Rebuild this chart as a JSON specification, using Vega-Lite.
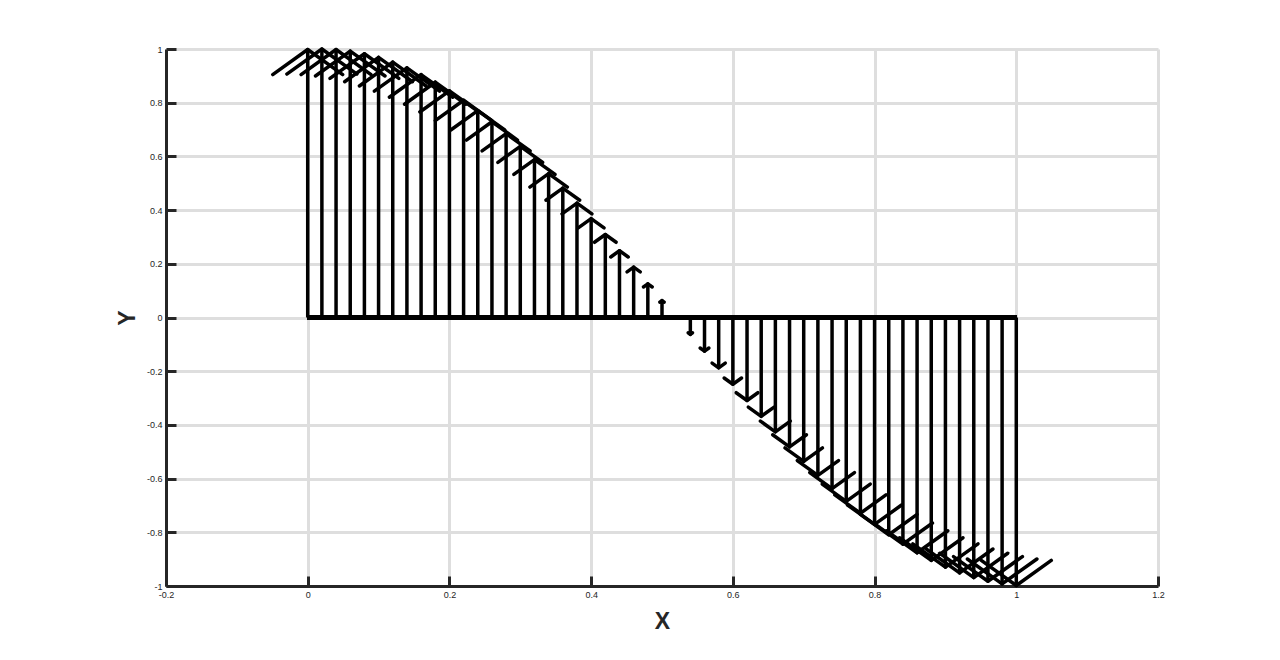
{
  "$schema": "https://vega.github.io/schema/vega-lite/v6.json",
  "width": 992,
  "height": 537,
  "autosize": {"type": "none"},
  "padding": {"left": 166, "top": 49, "right": 122, "bottom": 74},
  "background": "white",
  "config": {
    "view": {"stroke": null},
    "axis": {
      "domainColor": "#262626",
      "domainWidth": 3,
      "tickColor": "#262626",
      "tickWidth": 3,
      "tickSize": -10,
      "labelPadding": 14,
      "gridColor": "#dedede",
      "gridWidth": 3,
      "labelFont": "Liberation Sans",
      "labelFontSize": 9,
      "labelColor": "#262626",
      "titleFont": "Liberation Sans",
      "titleFontSize": 23,
      "titleFontWeight": "bold",
      "titleColor": "#262626",
      "labelFlush": false,
      "labelOverlap": false,
      "labelBound": false
    }
  },
  "data": {"values": [
    {"x":0,"v":0.998,"hl":-0.0494,"hr":0.0494,"hy":0.9047},
    {"x":0.02,"v":1,"hl":-0.0295,"hr":0.0695,"hy":0.9065},
    {"x":0.04,"v":0.998,"hl":-0.0094,"hr":0.0894,"hy":0.9047},
    {"x":0.06,"v":0.9921,"hl":0.0109,"hr":0.1091,"hy":0.8994},
    {"x":0.08,"v":0.9823,"hl":0.0314,"hr":0.1286,"hy":0.8905},
    {"x":0.1,"v":0.9686,"hl":0.0521,"hr":0.1479,"hy":0.878},
    {"x":0.12,"v":0.9511,"hl":0.0729,"hr":0.1671,"hy":0.8621},
    {"x":0.14,"v":0.9298,"hl":0.094,"hr":0.186,"hy":0.8429},
    {"x":0.16,"v":0.9048,"hl":0.1152,"hr":0.2048,"hy":0.8202},
    {"x":0.18,"v":0.8763,"hl":0.1366,"hr":0.2234,"hy":0.7944},
    {"x":0.2,"v":0.8443,"hl":0.1582,"hr":0.2418,"hy":0.7654},
    {"x":0.22,"v":0.809,"hl":0.18,"hr":0.26,"hy":0.7334},
    {"x":0.24,"v":0.7705,"hl":0.2019,"hr":0.2781,"hy":0.6985},
    {"x":0.26,"v":0.729,"hl":0.2239,"hr":0.2961,"hy":0.6608},
    {"x":0.28,"v":0.6846,"hl":0.2461,"hr":0.3139,"hy":0.6205},
    {"x":0.3,"v":0.6374,"hl":0.2684,"hr":0.3316,"hy":0.5778},
    {"x":0.32,"v":0.5878,"hl":0.2909,"hr":0.3491,"hy":0.5328},
    {"x":0.34,"v":0.5358,"hl":0.3135,"hr":0.3665,"hy":0.4857},
    {"x":0.36,"v":0.4818,"hl":0.3362,"hr":0.3839,"hy":0.4367},
    {"x":0.38,"v":0.4258,"hl":0.3589,"hr":0.4011,"hy":0.386},
    {"x":0.4,"v":0.3681,"hl":0.3818,"hr":0.4182,"hy":0.3337},
    {"x":0.42,"v":0.309,"hl":0.4047,"hr":0.4353,"hy":0.2801},
    {"x":0.44,"v":0.2487,"hl":0.4277,"hr":0.4523,"hy":0.2254},
    {"x":0.46,"v":0.1874,"hl":0.4507,"hr":0.4693,"hy":0.1699},
    {"x":0.48,"v":0.1253,"hl":0.4738,"hr":0.4862,"hy":0.1136},
    {"x":0.5,"v":0.0628,"hl":0.4969,"hr":0.5031,"hy":0.0569},
    {"x":0.52,"v":0,"hl":0.52,"hr":0.52,"hy":0},
    {"x":0.54,"v":-0.0628,"hl":0.5369,"hr":0.5431,"hy":-0.0569},
    {"x":0.56,"v":-0.1253,"hl":0.5538,"hr":0.5662,"hy":-0.1136},
    {"x":0.58,"v":-0.1874,"hl":0.5707,"hr":0.5893,"hy":-0.1699},
    {"x":0.6,"v":-0.2487,"hl":0.5877,"hr":0.6123,"hy":-0.2254},
    {"x":0.62,"v":-0.309,"hl":0.6047,"hr":0.6353,"hy":-0.2801},
    {"x":0.64,"v":-0.3681,"hl":0.6218,"hr":0.6582,"hy":-0.3337},
    {"x":0.66,"v":-0.4258,"hl":0.6389,"hr":0.6811,"hy":-0.386},
    {"x":0.68,"v":-0.4818,"hl":0.6562,"hr":0.7039,"hy":-0.4367},
    {"x":0.7,"v":-0.5358,"hl":0.6735,"hr":0.7265,"hy":-0.4857},
    {"x":0.72,"v":-0.5878,"hl":0.6909,"hr":0.7491,"hy":-0.5328},
    {"x":0.74,"v":-0.6374,"hl":0.7085,"hr":0.7716,"hy":-0.5778},
    {"x":0.76,"v":-0.6846,"hl":0.7261,"hr":0.7939,"hy":-0.6205},
    {"x":0.78,"v":-0.729,"hl":0.7439,"hr":0.8161,"hy":-0.6608},
    {"x":0.8,"v":-0.7705,"hl":0.7619,"hr":0.8381,"hy":-0.6985},
    {"x":0.82,"v":-0.809,"hl":0.78,"hr":0.86,"hy":-0.7334},
    {"x":0.84,"v":-0.8443,"hl":0.7982,"hr":0.8818,"hy":-0.7654},
    {"x":0.86,"v":-0.8763,"hl":0.8166,"hr":0.9034,"hy":-0.7944},
    {"x":0.88,"v":-0.9048,"hl":0.8352,"hr":0.9248,"hy":-0.8202},
    {"x":0.9,"v":-0.9298,"hl":0.854,"hr":0.946,"hy":-0.8429},
    {"x":0.92,"v":-0.9511,"hl":0.8729,"hr":0.9671,"hy":-0.8621},
    {"x":0.94,"v":-0.9686,"hl":0.8921,"hr":0.9879,"hy":-0.878},
    {"x":0.96,"v":-0.9823,"hl":0.9114,"hr":1.0086,"hy":-0.8905},
    {"x":0.98,"v":-0.9921,"hl":0.9309,"hr":1.0291,"hy":-0.8994},
    {"x":1,"v":-0.998,"hl":0.9506,"hr":1.0494,"hy":-0.9047}
  ]},
  "layer": [
    {
      "mark": {"type": "rule", "color": "black", "strokeWidth": 3.5, "strokeCap": "butt"},
      "encoding": {
        "x": {"field": "x", "type": "quantitative",
          "scale": {"domain": [-0.2, 1.2], "nice": false, "zero": false},
          "axis": {"title": "X", "values": [-0.2, 0, 0.2, 0.4, 0.6, 0.8, 1, 1.2], "grid": true,
            "labelExpr": "datum.value < 0 ? '-' + format(-datum.value, '~g') : format(datum.value, '~g')",
            "titlePadding": 11}},
        "y": {"field": "v", "type": "quantitative",
          "scale": {"domain": [-1, 1], "nice": false, "zero": false},
          "axis": {"title": "Y", "values": [-1, -0.8, -0.6, -0.4, -0.2, 0, 0.2, 0.4, 0.6, 0.8, 1], "grid": true,
            "labelExpr": "datum.value < 0 ? '-' + format(-datum.value, '~g') : format(datum.value, '~g')",
            "titlePadding": 7}},
        "y2": {"datum": 0}
      }
    },
    {
      "mark": {"type": "rule", "color": "black", "strokeWidth": 3.5},
      "encoding": {
        "x": {"datum": 0, "type": "quantitative"},
        "x2": {"datum": 1},
        "y": {"datum": 0, "type": "quantitative"}
      }
    },
    {
      "mark": {"type": "rule", "color": "black", "strokeWidth": 3.5, "strokeCap": "round"},
      "encoding": {
        "x": {"field": "hl", "type": "quantitative"},
        "x2": {"field": "x"},
        "y": {"field": "hy", "type": "quantitative"},
        "y2": {"field": "v"}
      }
    },
    {
      "mark": {"type": "rule", "color": "black", "strokeWidth": 3.5, "strokeCap": "round"},
      "encoding": {
        "x": {"field": "hr", "type": "quantitative"},
        "x2": {"field": "x"},
        "y": {"field": "hy", "type": "quantitative"},
        "y2": {"field": "v"}
      }
    }
  ]
}
